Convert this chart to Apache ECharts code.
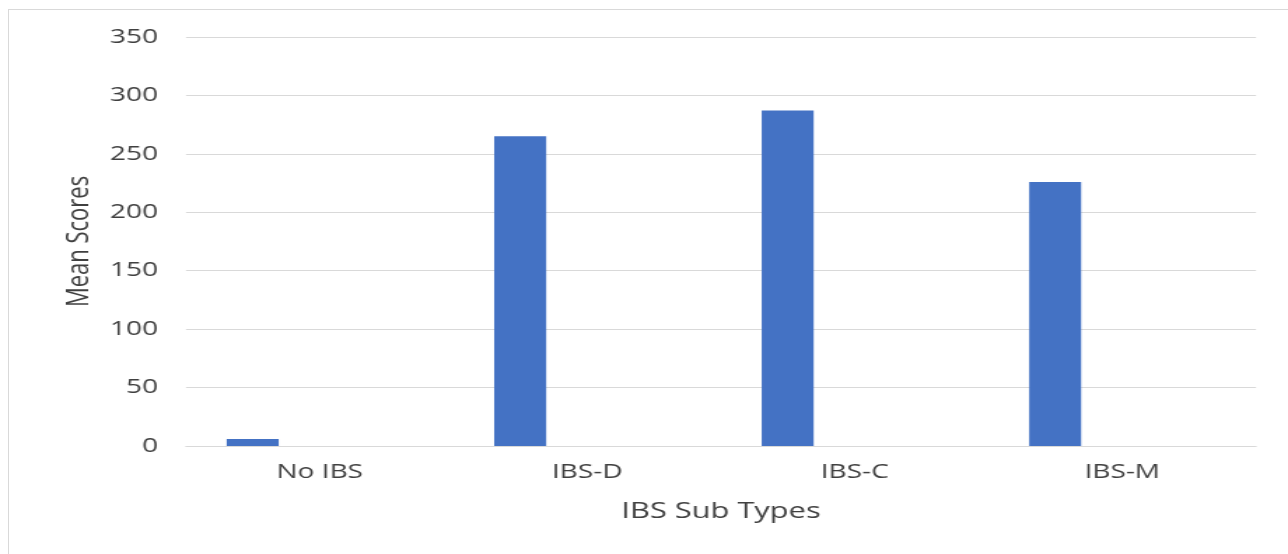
<!DOCTYPE html>
<html>
<head>
<meta charset="utf-8">
<script src="https://cdn.jsdelivr.net/npm/echarts@6/dist/echarts.min.js"></script>
<style>
html,body{margin:0;padding:0;background:#fff;overflow:hidden;}
#wrap{position:relative;width:1288px;height:554px;overflow:hidden;}
#frame{position:absolute;left:8px;top:9px;width:1400px;height:600px;border:1px solid #d9d9d9;box-sizing:border-box;}
#c{position:absolute;left:0;top:0;width:920px;height:554px;transform:scaleX(1.4);transform-origin:0 0;}
</style>
</head>
<body>
<div id="wrap">
<div id="frame"></div>
<div id="c"></div>
</div>
<script>
const categories = ['No IBS', 'IBS-D', 'IBS-C', 'IBS-M'];
const meanScores = [6, 265, 287, 226];
const emptySeries = [null, null, null, null];
const yTicks = { min: 0, max: 350, interval: 50 };

const S = 1.4; // horizontal stretch of the reference picture
const chart = echarts.init(document.getElementById('c'));
chart.setOption({
  animation: false,
  grid: { left: 186 / S, right: 32 / S, top: 37, bottom: 108, containLabel: false },
  graphic: [
    { type: 'text', x: 721 / S, y: 501, style: { text: 'IBS Sub Types', font: '22px "Open Sans"', fill: '#404040', textAlign: 'center', textVerticalAlign: 'top' } }
  ],
  xAxis: {
    type: 'category',
    data: categories,
    axisLine: { lineStyle: { color: '#d9d9d9', width: 1 } },
    axisTick: { show: false },
    axisLabel: { color: '#404040', fontFamily: 'Open Sans', fontSize: 20, margin: 16 }
  },
  yAxis: {
    type: 'value',
    min: yTicks.min, max: yTicks.max, interval: yTicks.interval,
    name: 'Mean Scores',
    nameLocation: 'middle',
    nameGap: 65,
    nameTextStyle: { color: '#404040', fontFamily: 'Open Sans', fontSize: 22 },
    axisLine: { show: false },
    axisTick: { show: false },
    splitLine: { lineStyle: { color: '#d9d9d9', width: 1 } },
    axisLabel: { color: '#404040', fontFamily: 'Open Sans', fontSize: 20, margin: 20 }
  },
  series: [
    { type: 'bar', data: meanScores, barWidth: 52 / S, barGap: '158%', itemStyle: { color: '#4472c4' } },
    { type: 'bar', data: emptySeries, barWidth: 52 / S, itemStyle: { color: '#ed7d31' } }
  ]
});
</script>
</body>
</html>
